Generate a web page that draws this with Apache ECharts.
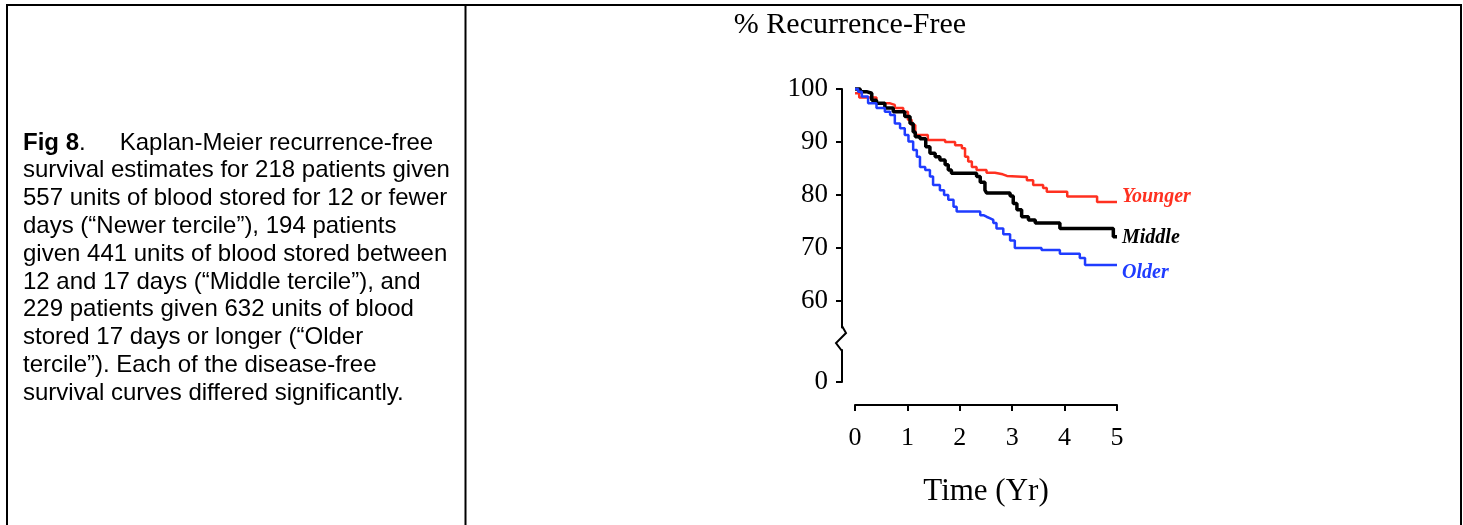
<!DOCTYPE html>
<html><head><meta charset="utf-8">
<script src="https://cdn.jsdelivr.net/npm/echarts@6/dist/echarts.min.js"></script>
<style>html,body{margin:0;padding:0;background:#fff}#c{width:1463px;height:525px}</style>
</head><body><div id="c"></div>
<script>
// ---- data ----
const seriesNames = ['Younger', 'Middle', 'Older'];
const youngerTime = [0, 0.08, 0.41, 0.67, 0.76, 0.92, 1.01, 1.08, 1.15, 1.18, 1.39, 1.72, 1.91, 2.04, 2.10, 2.16, 2.23, 2.32, 2.51, 2.67, 2.82, 2.90, 3.28, 3.40, 3.59, 3.66, 4.05, 4.62, 5.0];
const youngerPct  = [99.2, 98.4, 97.3, 97.0, 96.4, 95.7, 94.2, 93.2, 91.7, 91.3, 90.4, 90.0, 89.4, 88.8, 87.2, 86.3, 85.3, 84.7, 84.2, 83.9, 83.6, 83.4, 82.8, 81.9, 81.3, 80.6, 79.7, 78.7, 78.7];
const middleTime = [0, 0.10, 0.22, 0.32, 0.41, 0.57, 0.73, 0.95, 1.05, 1.11, 1.15, 1.24, 1.35, 1.43, 1.53, 1.62, 1.72, 1.78, 1.84, 2.32, 2.39, 2.48, 2.51, 2.96, 3.02, 3.09, 3.18, 3.31, 3.44, 3.91, 4.93, 5.0];
const middlePct  = [100, 99.5, 99.2, 97.9, 97.3, 96.4, 95.7, 94.8, 93.5, 91.9, 91.0, 90.6, 89.1, 87.9, 87.2, 86.6, 85.7, 84.7, 84.1, 83.5, 82.4, 80.9, 80.4, 79.8, 78.4, 77.2, 75.9, 75.3, 74.7, 73.7, 72.1, 72.1];
const olderTime = [0, 0.06, 0.13, 0.25, 0.41, 0.57, 0.67, 0.76, 0.86, 0.95, 1.02, 1.11, 1.18, 1.24, 1.34, 1.43, 1.49, 1.62, 1.70, 1.78, 1.88, 1.94, 2.39, 2.45, 2.51, 2.58, 2.64, 2.70, 2.83, 2.96, 3.05, 3.56, 3.91, 4.29, 4.39, 5.0];
const olderPct  = [100, 99.5, 98.6, 97.3, 96.4, 95.7, 95.1, 93.5, 92.6, 91.3, 90.1, 88.5, 87.2, 85.3, 84.7, 83.5, 81.9, 80.9, 80.0, 79.1, 77.8, 76.9, 76.2, 75.9, 75.6, 75.3, 74.7, 73.7, 72.6, 71.4, 70.0, 69.6, 68.9, 68.1, 66.8, 66.8];
const xTicks = [0, 1, 2, 3, 4, 5];
const yTicksUpper = [60, 70, 80, 90, 100];
const yTicksLower = [0];
const chartTitle = '% Recurrence-Free';
const xTitle = 'Time (Yr)';
const captionLines = [
  '{b|Fig 8}.{sp| }Kaplan-Meier recurrence-free',
  'survival estimates for 218 patients given',
  '557 units of blood stored for 12 or fewer',
  'days (“Newer tercile”), 194 patients',
  'given 441 units of blood stored between',
  '12 and 17 days (“Middle tercile”), and',
  '229 patients given 632 units of blood',
  'stored 17 days or longer (“Older',
  'tercile”). Each of the disease-free',
  'survival curves differed significantly.'
];
const colors = ['#ff3020', '#000000', '#1f3cff'];
const labelOffsets = [[0, -5], [0, 1], [0, 8]];
const lineWidths = [2.5, 3.5, 2.5];

// ---- chart ----
const zip = (t, v) => t.map((x, i) => [x, v[i]]);
const dataSets = [zip(youngerTime, youngerPct), zip(middleTime, middlePct), zip(olderTime, olderPct)];
const serif = 'Liberation Serif';

const chart = echarts.init(document.getElementById('c'), null, {renderer: 'canvas'});
chart.setOption({
  animation: false,
  backgroundColor: '#fff',
  title: [
    {text: chartTitle, left: 850, top: 10, textAlign: 'center', padding: 0,
     textStyle: {fontFamily: serif, fontSize: 30, fontWeight: 'normal', color: '#000'}},
    {text: captionLines.join('\n'), left: 23, top: 129, padding: 0,
     textStyle: {fontFamily: 'Liberation Sans', fontSize: 24, lineHeight: 27.8, fontWeight: 'normal', color: '#000',
       rich: {b: {fontFamily: 'Liberation Sans', fontSize: 24, lineHeight: 27.8, fontWeight: 'bold', color: '#000'},
              sp: {width: 34, fontSize: 24, lineHeight: 27.8}}}}
  ],
  grid: [
    {left: 855, width: 262, top: 89, height: 238.5},
    {left: 855, width: 262, top: 350, height: 32}
  ],
  xAxis: [
    {gridIndex: 0, type: 'value', min: 0, max: 5, show: false},
    {gridIndex: 1, type: 'value', min: 0, max: 5, interval: 1, position: 'bottom', offset: 23,
     axisLine: {show: true, onZero: false, lineStyle: {color: '#000', width: 2}},
     axisTick: {show: true, length: 6, lineStyle: {color: '#000', width: 2}},
     axisLabel: {fontFamily: serif, fontSize: 26, color: '#000', margin: 20,
       customValues: xTicks},
     splitLine: {show: false},
     name: xTitle, nameLocation: 'middle', nameGap: 71,
     nameTextStyle: {fontFamily: serif, fontSize: 31, color: '#000'}}
  ],
  yAxis: [
    {gridIndex: 0, type: 'value', min: 55, max: 100, offset: 13,
     axisLine: {show: true, onZero: false, lineStyle: {color: '#000', width: 2}},
     axisTick: {show: true, length: 6, customValues: yTicksUpper, lineStyle: {color: '#000', width: 2}},
     axisLabel: {fontFamily: serif, fontSize: 27, color: '#000', margin: 14, customValues: yTicksUpper},
     splitLine: {show: false}},
    {gridIndex: 1, type: 'value', min: 0, max: 6, offset: 13,
     axisLine: {show: true, onZero: false, lineStyle: {color: '#000', width: 2}},
     axisTick: {show: true, length: 6, customValues: yTicksLower, lineStyle: {color: '#000', width: 2}},
     axisLabel: {fontFamily: serif, fontSize: 27, color: '#000', margin: 14, customValues: yTicksLower},
     splitLine: {show: false}}
  ],
  series: seriesNames.map((name, i) => ({
    name, type: 'line', step: 'end', xAxisIndex: 0, yAxisIndex: 0,
    data: dataSets[i], showSymbol: false, symbol: 'none', clip: false,
    lineStyle: {color: colors[i], width: lineWidths[i]},
    endLabel: {show: true, formatter: name, distance: 5, offset: labelOffsets[i],
      fontFamily: serif, fontStyle: 'italic', fontWeight: 'bold', fontSize: 20, color: colors[i]}
  })),
  graphic: [
    // y-axis break zigzag
    {type: 'polyline', shape: {points: [[842, 326], [846, 333], [836, 343], [842, 351]]},
     style: {stroke: '#000', lineWidth: 2, fill: null}},
    // table borders
    {type: 'line', shape: {x1: 6, y1: 5, x2: 1462, y2: 5}, style: {stroke: '#000', lineWidth: 2}},
    {type: 'line', shape: {x1: 7, y1: 4, x2: 7, y2: 525}, style: {stroke: '#000', lineWidth: 2}},
    {type: 'line', shape: {x1: 465.5, y1: 4, x2: 465.5, y2: 525}, style: {stroke: '#000', lineWidth: 2}},
    {type: 'line', shape: {x1: 1461, y1: 4, x2: 1461, y2: 525}, style: {stroke: '#000', lineWidth: 2}}
  ]
});
</script>
</body></html>
